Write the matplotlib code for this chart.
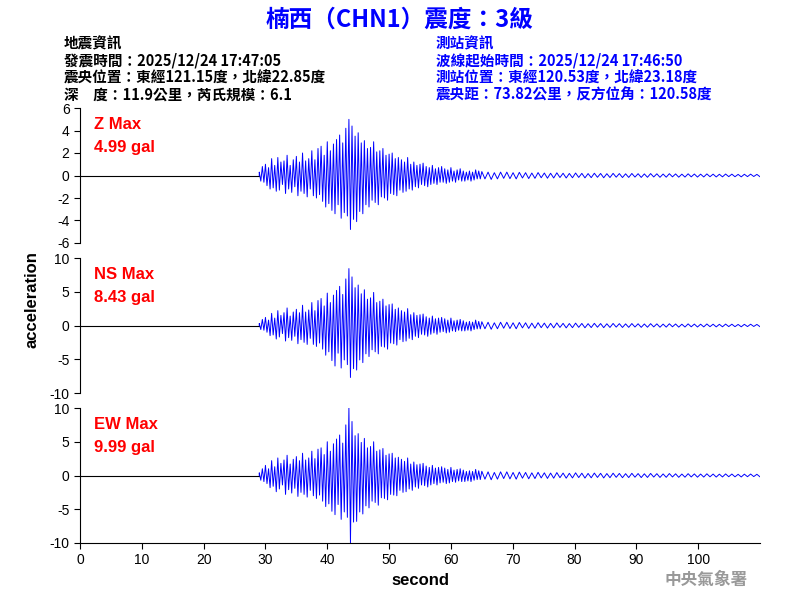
import matplotlib
matplotlib.use("Agg")
import matplotlib.pyplot as plt
import numpy as np

plt.rcParams['font.family'] = ['Liberation Sans', 'Noto Sans CJK TC', 'DejaVu Sans']
plt.rcParams['axes.unicode_minus'] = False

title = "楠西（CHN1）震度：3級"
left_info = ["地震資訊", "發震時間：2025/12/24 17:47:05", "震央位置：東經121.15度，北緯22.85度", "深　度：11.9公里，芮氏規模：6.1"]
right_info = ["測站資訊", "波線起始時間：2025/12/24 17:46:50", "測站位置：東經120.53度，北緯23.18度", "震央距：73.82公里，反方位角：120.58度"]

onset = 29.0
active_end = 65.0
trace_end = 110.0

z_active = [0.3,-0.5,0.8,-0.6, 1.0,-0.9,0.7,-1.2,
 1.5,-1.1,0.9,-1.4, 1.6,-1.3,1.2,-0.8,
 1.3,-1.6,1.8,-1.2, 0.9,-1.5,1.4,-1.0,
 1.7,-1.8,1.2,-1.4, 2.0,-1.6,1.3,-1.9,
 1.5,-1.2,2.2,-1.8, 1.4,-2.0,2.4,-1.7,
 2.6,-2.3,1.8,-2.8, 3.0,-2.5,2.2,-3.1,
 2.8,-3.4,3.2,-2.6, 3.6,-3.8,2.9,-3.3,
 4.2,-3.6,4.99,-4.8, 4.4,-3.9,3.5,-4.1,
 3.8,-3.2,2.9,-3.4, 3.1,-2.6,2.4,-2.8,
 2.5,-2.2,3.0,-2.4, 2.1,-2.6,2.2,-1.9,
 2.4,-2.0,1.8,-2.2, 1.9,-1.6,2.0,-1.7,
 1.5,-1.8,1.6,-1.3, 1.4,-1.5,1.2,-1.4,
 1.6,-1.2,1.0,-1.3, 1.2,-1.0,0.9,-1.1,
 1.0,-0.8,1.1,-0.9, 0.8,-1.0,0.7,-0.8,
 0.9,-0.7,0.6,-0.8, 0.7,-0.6,0.8,-0.6,
 0.6,-0.7,0.5,-0.6, 0.7,-0.5,0.4,-0.6,
 0.5,-0.4,0.6,-0.5, 0.4,-0.5,0.3,-0.4,
 0.4,-0.5,0.3,-0.4, 0.5,-0.3,0.4,-0.3]

ns_active = [0.3,-0.6,0.9,-0.7, 1.2,-1.0,0.8,-1.5,
 1.8,-1.4,1.1,-2.0, 2.2,-1.7,1.5,-1.2,
 1.9,-2.3,2.6,-1.8, 1.4,-2.2,2.0,-1.6,
 2.4,-2.7,1.9,-2.1, 3.0,-2.5,2.0,-2.8,
 2.3,-1.9,3.4,-2.8, 2.2,-3.1,3.7,-2.6,
 4.0,-3.5,2.9,-4.4, 4.8,-3.9,3.4,-5.2,
 4.5,-6.0,5.2,-4.1, 5.8,-6.3,4.6,-5.1,
 6.9,-5.8,8.43,-7.7, 7.2,-6.4,5.6,-6.6,
 6.0,-5.1,4.7,-5.5, 5.3,-4.2,3.9,-4.6,
 4.1,-3.6,4.9,-3.9, 3.4,-4.2,3.6,-3.1,
 3.9,-3.2,2.9,-3.5, 3.1,-2.6,3.2,-2.7,
 2.4,-2.9,2.6,-2.1, 2.2,-2.4,2.0,-2.3,
 2.5,-1.9,1.6,-2.1, 1.9,-1.6,1.5,-1.8,
 1.6,-1.3,1.7,-1.4, 1.3,-1.6,1.1,-1.3,
 1.4,-1.1,1.0,-1.3, 1.1,-1.0,1.2,-0.9,
 1.0,-1.1,0.8,-1.0, 1.1,-0.8,0.7,-0.9,
 0.8,-0.7,0.9,-0.8, 0.7,-0.8,0.5,-0.7,
 0.6,-0.8,0.5,-0.6, 0.8,-0.5,0.6,-0.5]

ew_active = [0.4,-0.7,1.0,-0.9, 1.5,-1.2,1.0,-1.8,
 2.2,-1.6,1.3,-2.4, 2.6,-2.0,1.8,-1.4,
 2.3,-2.8,3.0,-2.1, 1.7,-2.6,2.4,-1.9,
 2.8,-3.1,2.2,-2.5, 3.3,-2.8,2.3,-3.2,
 2.6,-2.2,3.6,-3.0, 2.5,-3.4,3.9,-2.9,
 4.1,-3.8,3.1,-4.6, 5.0,-4.2,3.6,-5.3,
 4.7,-5.8,5.4,-4.3, 6.0,-6.5,4.8,-5.4,
 7.5,-6.2,9.99,-10.0, 8.0,-6.9,5.9,-6.8,
 6.2,-5.4,4.9,-5.7, 5.5,-4.5,4.1,-4.8,
 4.3,-3.8,5.0,-4.0, 3.6,-4.4,3.8,-3.3,
 4.0,-3.4,3.0,-3.6, 3.2,-2.8,3.3,-2.9,
 2.6,-3.0,2.7,-2.2, 2.4,-2.5,2.1,-2.4,
 2.6,-2.0,1.7,-2.2, 2.0,-1.7,1.6,-1.9,
 1.7,-1.4,1.8,-1.5, 1.4,-1.7,1.2,-1.4,
 1.5,-1.2,1.1,-1.4, 1.2,-1.1,1.3,-1.0,
 1.1,-1.2,0.9,-1.1, 1.2,-0.9,0.8,-1.0,
 0.9,-0.8,1.0,-0.9, 0.8,-0.9,0.6,-0.8,
 0.7,-0.9,0.6,-0.7, 0.9,-0.6,0.7,-0.6]

tail_base = [0.35,-0.3,0.3,-0.35,0.25,-0.3,0.3,-0.25,0.3,-0.28,
 0.25,-0.3,0.28,-0.22,0.25,-0.27,0.22,-0.25,0.26,-0.2,
 0.22,-0.24,0.2,-0.22,0.24,-0.18,0.2,-0.22,0.18,-0.2,
 0.22,-0.17,0.19,-0.21,0.17,-0.19,0.2,-0.16,0.18,-0.2,
 0.16,-0.18,0.19,-0.15,0.17,-0.18,0.15,-0.17,0.18,-0.14,
 0.16,-0.17,0.14,-0.16,0.17,-0.13,0.15,-0.16,0.13,-0.15,
 0.16,-0.12,0.14,-0.15,0.12,-0.14,0.15,-0.12,0.13,-0.14,
 0.12,-0.13,0.14,-0.11,0.12,-0.13,0.11,-0.12,0.13,-0.1,
 0.12,-0.11,0.1,-0.12,0.11,-0.1,0.12,-0.09,0.1,-0.11]
z_tail = [v * 1.0 for v in tail_base]
ns_tail = [v * 1.6 for v in tail_base]
ew_tail = [v * 1.8 for v in tail_base]

panels = [
    ("Z Max", "4.99 gal", z_active, z_tail, (-6, 6), [-6,-4,-2,0,2,4,6]),
    ("NS Max", "8.43 gal", ns_active, ns_tail, (-10, 10), [-10,-5,0,5,10]),
    ("EW Max", "9.99 gal", ew_active, ew_tail, (-10, 10), [-10,-5,0,5,10]),
]

cjk = ['Noto Sans CJK TC', 'DejaVu Sans']
fig = plt.figure(figsize=(8, 6), dpi=100)
fig.text(0.5, 0.968, title, ha='center', va='center', fontsize=17, color='#0000ff',
         fontweight='bold', family=cjk)
for i, s in enumerate(left_info):
    fig.text(0.08, 0.928 - i*0.0285, s, fontsize=10.5, fontweight='bold', color='black', va='center', family=cjk)
for i, s in enumerate(right_info):
    fig.text(0.545, 0.928 - i*0.0285, s, fontsize=10.5, fontweight='bold', color='#0000ff', va='center', family=cjk)

boxes = [(0.82, 0.595), (0.57, 0.345), (0.32, 0.095)]
for k, ((lab, mx, act, tail, yl, yt), (top, bot)) in enumerate(zip(panels, boxes)):
    ax = fig.add_axes([0.1, bot, 0.85, top - bot])
    t_act = np.linspace(onset, active_end, len(act), endpoint=False)
    t_tail = np.linspace(active_end, trace_end, len(tail))
    ax.plot([0, onset], [0, 0], color='black', lw=0.8)
    ax.plot(np.concatenate([[onset], t_act, t_tail]), np.concatenate([[0], act, tail]),
            color='#0000ff', lw=0.7)
    ax.set_xlim(0, 110)
    ax.set_ylim(*yl)
    ax.set_yticks(yt)
    for sp in ['top', 'right']:
        ax.spines[sp].set_visible(False)
    ax.tick_params(labelsize=10, length=4)
    if k < 2:
        ax.spines['bottom'].set_visible(False)
        ax.set_xticks([])
    else:
        ax.set_xticks(range(0, 101, 10))
        ax.set_xlabel("second", fontsize=12, fontweight='bold')
    ax.text(0.02, 0.93, lab, transform=ax.transAxes, color='red', fontsize=12, fontweight='bold', va='top')
    ax.text(0.02, 0.76, mx, transform=ax.transAxes, color='red', fontsize=12, fontweight='bold', va='top')

fig.text(0.04, 0.5, "acceleration", rotation=90, fontsize=12, fontweight='bold', va='center', ha='center')
fig.text(0.935, 0.033, "中央氣象署", fontsize=12, color='#999999', fontweight='bold', ha='right', va='center', family=cjk)
fig.savefig("out.png", dpi=100)
